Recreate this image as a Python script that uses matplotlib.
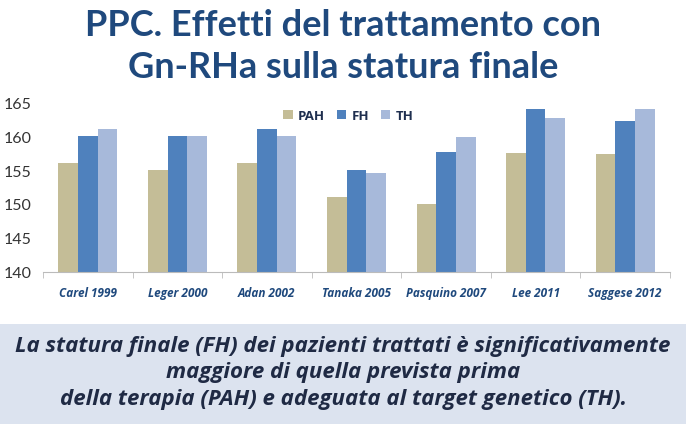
import numpy as np
import matplotlib.pyplot as plt
from matplotlib.patches import Rectangle

studi = ['Carel 1999', 'Leger 2000', 'Adan 2002', 'Tanaka 2005',
         'Pasquino 2007', 'Lee 2011', 'Saggese 2012']
pah = [156, 155, 156, 151.1, 150, 157.5, 157.4]
fh = [160, 160, 161, 155, 157.7, 163.9, 162.2]
th = [161, 160, 160, 154.5, 159.9, 162.6, 164]

col_pah = '#C4BD97'
col_fh = '#4F81BD'
col_th = '#A7B9DA'
blu = '#1F497D'

plt.rcParams['font.family'] = ['Lato', 'DejaVu Sans']

fig = plt.figure(figsize=(6.86, 4.31), dpi=100)
W, H = 686, 431

# titolo
fig.text(0.5, 1 - 26 / H, 'PPC. Effetti del trattamento con', ha='center', va='center',
         fontsize=26, fontweight='bold', color=blu)
fig.text(0.5, 1 - 67 / H, 'Gn-RHa sulla statura finale', ha='center', va='center',
         fontsize=26, fontweight='bold', color=blu)

ax = fig.add_axes([43 / W, 1 - 273 / H, (670 - 43) / W, (273 - 103) / H])
x = np.arange(len(studi))
w = 0.22
ax.bar(x - w, pah, w, color=col_pah, label='PAH')
ax.bar(x, fh, w, color=col_fh, label='FH')
ax.bar(x + w, th, w, color=col_th, label='TH')
ax.set_ylim(140, 165)
ax.set_xlim(-0.5, len(studi) - 0.5)
ax.set_yticks(np.arange(140, 166, 5))
ax.tick_params(axis='y', length=0, labelsize=11.5, colors='#333333', pad=8)
ax.set_xticks(x)
ax.set_xticklabels(studi, fontsize=8.5, fontweight='bold', style='italic', color=blu,
                   family=['Open Sans', 'DejaVu Sans'])
ax.set_xticks(np.arange(-0.5, len(studi), 1), minor=True)
ax.tick_params(axis='x', which='major', length=0, pad=10)
ax.tick_params(axis='x', which='minor', length=4, color='#BBBBBB', direction='out')
for s in ['top', 'right', 'left']:
    ax.spines[s].set_visible(False)
ax.spines['bottom'].set_color('#BBBBBB')
leg = ax.legend(loc='upper center', bbox_to_anchor=(0.487, 1.03), ncol=3, frameon=False,
                handlelength=0.7, handleheight=0.7, columnspacing=0.9,
                handletextpad=0.4, fontsize=9.5)
for t in leg.get_texts():
    t.set_color('#1F2F4F')
    t.set_fontweight('bold')
    t.set_family(['Open Sans', 'DejaVu Sans'])

# riquadro in basso
fig.patches.append(Rectangle((0, 1 - 425 / H), 1, 100 / H, transform=fig.transFigure,
                             facecolor='#DCE3EF', edgecolor='none', zorder=0))
righe = ['La statura finale (FH) dei pazienti trattati è significativamente',
         'maggiore di quella prevista prima',
         'della terapia (PAH) e adeguata al target genetico (TH).']
ys = [347, 373, 400]
for r, yy in zip(righe, ys):
    fig.text(0.5, 1 - yy / H, r, ha='center', va='center', fontsize=16,
             fontweight='bold', style='italic', color='#1F2A44',
             family=['Open Sans', 'DejaVu Sans'])

fig.savefig('out.png', dpi=100)
